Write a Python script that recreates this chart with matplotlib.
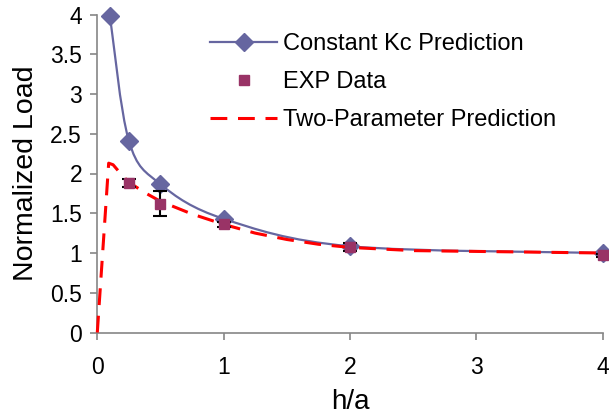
import numpy as np
import matplotlib.pyplot as plt
from matplotlib.path import Path
from matplotlib.patches import PathPatch

plt.rcParams['font.family'] = ['Liberation Sans', 'DejaVu Sans']

# Constant Kc prediction (markers)
kc_x = [0.1, 0.25, 0.5, 1, 2, 4]
kc_y = [3.98, 2.41, 1.865, 1.43, 1.085, 1.0]

# experimental data with error bars
exp_x = [0.25, 0.5, 1, 2, 4]
exp_y = [1.88, 1.62, 1.36, 1.07, 0.97]
exp_err = [0.05, 0.155, 0.03, 0.05, 0.02]

# two-parameter prediction
tp_x = [0, 0.09, 0.125, 0.2, 0.25, 0.375, 0.5, 0.625, 0.75, 1,
        1.25, 1.5, 1.75, 2, 2.5, 3, 3.5, 4]
tp_y = [0, 2.13, 2.11, 1.97, 1.89, 1.76, 1.65, 1.57, 1.49, 1.36,
        1.25, 1.17, 1.11, 1.07, 1.03, 1.02, 1.01, 1.0]

KC_COLOR = '#6666a0'
EXP_COLOR = '#993366'
GRID = '#868686'


def smooth_path(xs, ys):
    # excel style smoothed line: bezier with catmull-rom tangents
    pts = np.column_stack([xs, ys]).astype(float)
    n = len(pts)
    verts = [pts[0]]
    codes = [Path.MOVETO]
    for i in range(n - 1):
        p0 = pts[max(i - 1, 0)]
        p1 = pts[i]
        p2 = pts[i + 1]
        p3 = pts[min(i + 2, n - 1)]
        c1 = p1 + (p2 - p0) / 6.0
        c2 = p2 - (p3 - p1) / 6.0
        verts += [c1, c2, p2]
        codes += [Path.CURVE4] * 3
    return Path(verts, codes)


fig = plt.figure(figsize=(6.09, 4.18), dpi=100)
ax = fig.add_axes([97.3 / 609, 1 - 332.5 / 418, 505.4 / 609, 318 / 418])

ax.add_patch(PathPatch(smooth_path(kc_x, kc_y), facecolor='none',
                       edgecolor=KC_COLOR, lw=1.6, zorder=2, clip_on=False))
ax.plot(kc_x, kc_y, ls='none', marker='D', ms=9, color=KC_COLOR, zorder=3,
        clip_on=False)

ax.plot(tp_x, tp_y, color='#ff0000', lw=2.2, dashes=(5.5, 3.5), zorder=4,
        clip_on=False)

ax.errorbar(exp_x, exp_y, yerr=exp_err, fmt='none', ecolor='black',
            elinewidth=1.5, capsize=5, capthick=1.5, zorder=5)
ax.plot(exp_x, exp_y, ls='none', marker='s', ms=7, color=EXP_COLOR, zorder=6,
        clip_on=False)

# legend proxies
h1, = ax.plot([], [], color=KC_COLOR, lw=1.6, marker='D', ms=9)
h2, = ax.plot([], [], ls='none', marker='s', ms=7, color=EXP_COLOR)
h3, = ax.plot([], [], color='#ff0000', lw=2.2, dashes=(5.5, 3.5))
ax.legend([h1, h2, h3],
          ['Constant Kc Prediction', 'EXP Data', 'Two-Parameter Prediction'],
          loc='upper left', bbox_to_anchor=(210 / 609, 1 - 33 / 418),
          bbox_transform=fig.transFigure, frameon=False, fontsize=17,
          handlelength=2.85, handletextpad=0.25, labelspacing=0.68,
          borderpad=0, borderaxespad=0, numpoints=1)

ax.set_xlim(0, 4)
ax.set_ylim(0, 4)
ax.set_xticks([0, 1, 2, 3, 4])
ax.set_yticks(np.arange(0, 4.01, 0.5))
ax.set_yticklabels(['0', '0.5', '1', '1.5', '2', '2.5', '3', '3.5', '4'])

for s in ['top', 'right']:
    ax.spines[s].set_visible(False)
for s in ['left', 'bottom']:
    ax.spines[s].set_color(GRID)
    ax.spines[s].set_linewidth(1.2)
ax.tick_params(axis='both', colors=GRID, labelcolor='black', labelsize=16.5,
               length=5, width=1.2)
ax.tick_params(axis='x', pad=12)
ax.tick_params(axis='y', pad=6)

ax.set_xlabel('h/a', fontsize=20, labelpad=7)
ax.set_ylabel('Normalized Load', fontsize=20.5, labelpad=8)

fig.savefig('out.png', dpi=100)
